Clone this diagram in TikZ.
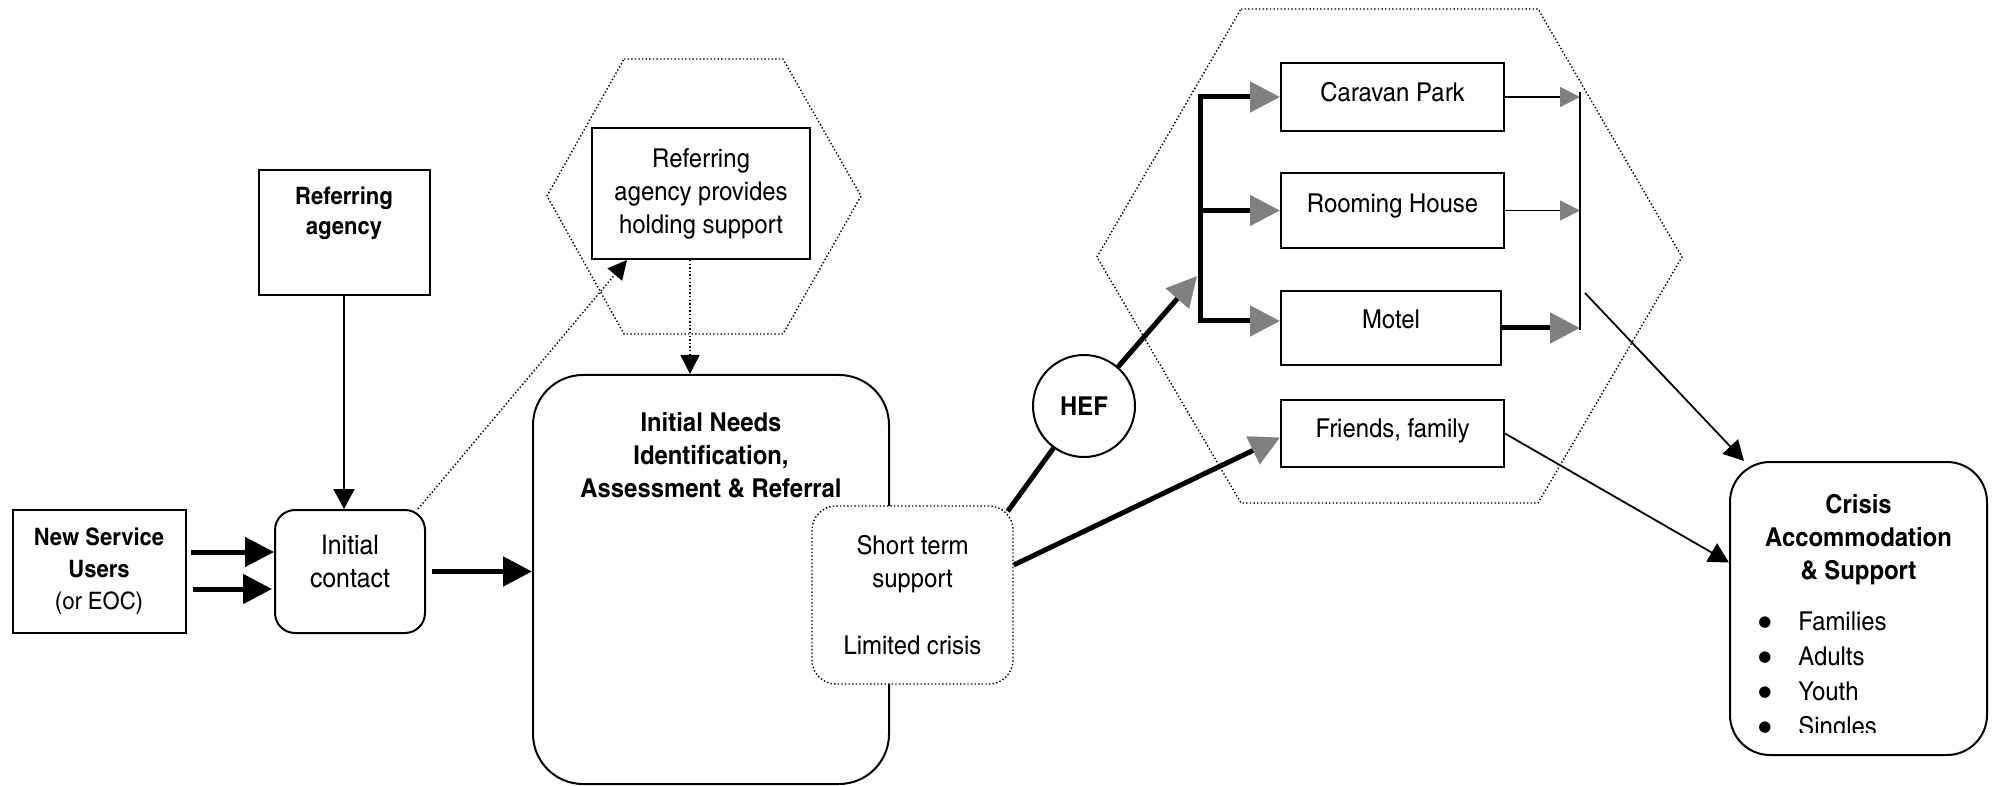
\documentclass[tikz,border=0pt]{standalone}
\usepackage{fontspec}
\setmainfont{texgyreheroscn}[Extension=.otf,UprightFont=*-regular,BoldFont=*-bold,ItalicFont=*-italic,BoldItalicFont=*-bolditalic,FakeStretch=1.12]
\newfontfamily\dotfont{DejaVu Sans}
\usetikzlibrary{arrows.meta}

\begin{document}
\begin{tikzpicture}[
		x=0.5pt, y=-0.5pt,
		every node/.style={align=center, inner sep=0pt, font=\fontsize{13}{16.5}\selectfont},
		bold/.style={font=\fontsize{13}{16.5}\selectfont\bfseries},
		small/.style={font=\fontsize{12}{16}\selectfont},
		small bold/.style={font=\fontsize{12}{15}\selectfont\bfseries},
		box/.style={draw, line width=1pt, fill=white},
		round box/.style={box, rounded corners=#1},
		dots/.style={line width=0.7pt, dash pattern=on 0.7pt off 1.1pt},
		thin arrow/.style={line width=0.9pt, -{Triangle[length=10pt,width=10.5pt]}},
		fat arrow/.style={line width=2.5pt, -{Triangle[length=14.5pt,width=14.5pt]}},
		dot arrow/.style={dots, -{Triangle[length=9.5pt,width=9.5pt]}},
		fat line/.style={line width=2.5pt},
		grey head/.style={-{Triangle[length=#1,width=#1,color=gray]}},
		grey head/.default=15pt,
		grey heads/.style={arrows={Triangle[length=15pt,width=15pt,color=gray]-Triangle[length=15pt,width=15pt,color=gray]}}
		]
		\useasboundingbox (0,0) rectangle (1998,786);
		\draw[dots] (624,59) -- (783,59) -- (861,196) -- (783,334) -- (624,334) -- (547,196) -- cycle;
		\draw[dots] (1241,9) -- (1538,9) -- (1682,257) -- (1538,503) -- (1241,503) -- (1097,257) -- cycle;

		\node[box, small, minimum width=86.5pt, minimum height=61.5pt] (nsu) at (99,571.5) {\textbf{New Service}\\\textbf{Users}\\(or EOC)};
		\node[box, minimum width=85.5pt, minimum height=62.5pt] (ra) at (344,232.5) {};
		\node[small bold, anchor=north] (ratxt) at ([yshift=-9pt]ra.north) {Referring\\agency};
		\node[round box=10pt, minimum width=75pt, minimum height=61.5pt] (ic) at (350,571.5) {};
		\node[font=\fontsize{13.5}{16.5}\selectfont] (ictxt) at ([yshift=5pt]ic.center) {Initial\\contact};
		\node[box, minimum width=109pt, minimum height=65.5pt] (hold) at (701,193.5) {Referring\\agency provides\\holding support};
		\node[round box=25pt, minimum width=178pt, minimum height=204.5pt] (needs) at (711,579.5) {};
		\node[bold, anchor=north] (needstxt) at ([yshift=-19pt]needs.north) {Initial Needs\\Identification,\\Assessment \& Referral};
		\node[draw, fill=white, dots, rounded corners=12pt, minimum width=100.5pt, minimum height=89pt] (st) at (912.5,595) {Short term\\support\\[17pt]Limited crisis};
		\node[draw, line width=1pt, fill=white, circle, minimum size=51pt, bold] (hef) at (1084,406) {HEF};
		\node[box, minimum width=111.5pt, minimum height=34pt, text depth=5pt] (cp) at (1392.5,97) {Caravan Park};
		\node[box, minimum width=111.5pt, minimum height=37.5pt, text depth=7.7pt] (rh) at (1392.5,210.5) {Rooming House};
		\node[box, minimum width=110pt, minimum height=37pt, text depth=9pt] (mo) at (1391,328) {Motel};
		\node[box, minimum width=111.5pt, minimum height=33.5pt, text depth=5.2pt] (ff) at (1392.5,433.5) {Friends, family};
		\node[round box=20pt, minimum width=128.5pt, minimum height=146.5pt] (cr) at (1858.5,608.5) {};
		\node[bold, anchor=north] (crtxt) at ([yshift=-16.5pt]cr.north) {Crisis\\Accommodation\\\& Support};
		\begin{scope}
			\clip (1730,462) rectangle (1987,732);
			\node[anchor=north west, align=left, font=\fontsize{13}{17.5}\selectfont] (crlist) at (1758,611)
			{\makebox[20pt][l]{\raisebox{1.6pt}{\dotfont\fontsize{7.5}{7.5}\selectfont ●}}Families\\\makebox[20pt][l]{\raisebox{1.6pt}{\dotfont\fontsize{7.5}{7.5}\selectfont ●}}Adults\\\makebox[20pt][l]{\raisebox{1.6pt}{\dotfont\fontsize{7.5}{7.5}\selectfont ●}}Youth\\\makebox[20pt][l]{\raisebox{1.6pt}{\dotfont\fontsize{7.5}{7.5}\selectfont ●}}Singles};
		\end{scope}

		\coordinate (bus1) at (1200,97);
		\coordinate (busin) at (1197,276);
		\coordinate (col1) at (1580,92);
		\coordinate (col2) at (1580,330);
		\coordinate (colout) at (1585,293);

		\draw[fat arrow] ([shift={(2pt,9.75pt)}]nsu.east) -- ([yshift=9.75pt]ic.west);
		\draw[fat arrow] ([shift={(3pt,-8.75pt)}]nsu.east) -- ([shift={(-1pt,-8.75pt)}]ic.west);
		\draw[thin arrow] (ra.south) -- (ra.south |- ic.north);
		\draw[fat arrow] ([xshift=3pt]ic.east) -- (ic.east -| needs.west);
		\draw[dot arrow] ([xshift=-4pt]ic.north east) -- ([xshift=18pt]hold.south west);
		\draw[dot arrow] ([xshift=-5.5pt]hold.south) -- ([xshift=-5.5pt]hold.south |- needs.north);
		\draw[fat line] ([shift={(-3pt,-3pt)}]st.north east) -- (hef);
		\draw[fat line, grey head] (hef) -- (busin);
		\draw[fat line, grey heads] ([yshift=3.5pt]mo.west) -| (bus1) -- (cp.west);
		\draw[fat line, grey head] (bus1 |- rh.west) -- (rh.west);
		\draw[line width=0.9pt] (col1) -- (col2);
		\draw[line width=0.9pt, grey head=10pt] (cp.east) -- (cp.east -| col1);
		\draw[line width=0.9pt, grey head=10pt] (rh.east) -- (rh.east -| col1);
		\draw[fat line, grey head] (mo.east) -- (mo.east -| col1);
		\draw[fat line, grey head] ([yshift=15pt]st.east) -- ([yshift=-2pt]ff.west);
		\draw[thin arrow] (colout) -- ([xshift=7.5pt]cr.north west);
		\draw[thin arrow] (ff.east) -- ([yshift=23pt]cr.west);
	\end{tikzpicture}
\end{document}
